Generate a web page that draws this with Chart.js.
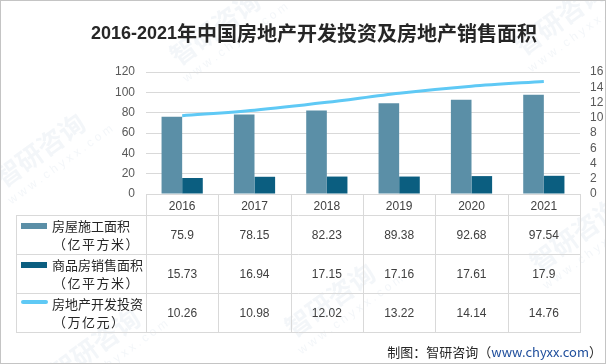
<!DOCTYPE html>
<html>
<head>
<meta charset="utf-8">
<script src="https://cdn.jsdelivr.net/npm/chart.js@4/dist/chart.umd.min.js"></script>
<style>
  html, body { margin: 0; padding: 0; background: #fff; }
  canvas { display: block; }
</style>
</head>
<body>
<canvas id="chart" width="606" height="364"></canvas>
<script>
const years = ["2016", "2017", "2018", "2019", "2020", "2021"]
const constructionArea = [75.9, 78.15, 82.23, 89.38, 92.68, 97.54]
const salesArea = [15.73, 16.94, 17.15, 17.16, 17.61, 17.9]
const investment = [10.26, 10.98, 12.02, 13.22, 14.14, 14.76]
const seriesNames = [
  ["房屋施工面积", "（亿平方米）"],
  ["商品房销售面积", "（亿平方米）"],
  ["房地产开发投资", "（万亿元）"]
]
const titleParts = ["2016-2021", "年中国房地产开发投资及房地产销售面积"]
const sourceParts = ["制图：智研咨询（", "www.chyxx.com", "）"]
const watermarks = [[215, 28], [560, 18], [40, 150], [330, 300], [575, 235], [95, 345]]

const CJK = "'Noto Sans CJK SC', 'Noto Sans', sans-serif"
const NUM = "'Liberation Sans', Arial, sans-serif"

// faint diagonal site logo behind everything
const watermarkPlugin = {
  id: "watermark",
  beforeDraw(chart) {
    const ctx = chart.ctx
    ctx.save()
    for (const [wx, wy] of watermarks) {
      ctx.save()
      ctx.translate(wx, wy)
      ctx.rotate(-Math.PI / 5)
      ctx.fillStyle = "rgba(150, 170, 200, 0.11)"
      ctx.font = "bold 26px " + CJK
      ctx.textAlign = "center"
      ctx.textBaseline = "middle"
      ctx.fillText("智研咨询", 0, 0)
      ctx.font = "12px " + NUM
      ctx.fillText("w w w . c h y x x . c o m", 8, 24)
      ctx.restore()
    }
    ctx.restore()
  }
}

// title, data table under the x axis, source line and frame
const tablePlugin = {
  id: "dataTable",
  afterDraw(chart) {
    const ctx = chart.ctx
    const xs = chart.scales.x
    const area = chart.chartArea
    const colW = (area.right - area.left) / years.length
    const rowTop = 215, rowH = 39, left = 16
    const bottom = rowTop + rowH * seriesNames.length
    const rows = [constructionArea, salesArea, investment]
    ctx.save()

    // grid of the table
    ctx.strokeStyle = "#d9d9d9"
    ctx.lineWidth = 1
    ctx.beginPath()
    for (let i = 0; i <= years.length; i++) {
      const px = Math.round(area.left + i * colW) + 0.5
      ctx.moveTo(px, area.bottom)
      ctx.lineTo(px, bottom)
    }
    ctx.moveTo(left + 0.5, rowTop)
    ctx.lineTo(left + 0.5, bottom)
    for (let r = 0; r <= rows.length; r++) {
      const py = rowTop + r * rowH + 0.5
      ctx.moveTo(left, py)
      ctx.lineTo(Math.round(area.right) + 1, py)
    }
    ctx.stroke()

    // values
    ctx.font = "12px " + NUM
    ctx.fillStyle = "#404040"
    ctx.textAlign = "center"
    ctx.textBaseline = "middle"
    rows.forEach((vals, r) => {
      vals.forEach((v, i) => {
        ctx.fillText(String(v), xs.getPixelForValue(i), rowTop + r * rowH + rowH / 2 + 1)
      })
    })

    // legend keys + names
    chart.data.datasets.forEach((ds, r) => {
      const y0 = rowTop + r * rowH
      if (ds.type === "line") {
        ctx.strokeStyle = ds.borderColor
        ctx.lineWidth = 4
        ctx.lineCap = "round"
        ctx.beginPath()
        ctx.moveTo(23, y0 + 9)
        ctx.lineTo(46, y0 + 9)
        ctx.stroke()
      } else {
        ctx.fillStyle = ds.backgroundColor
        ctx.fillRect(21, y0 + 8, 26, 6)
      }
      ctx.fillStyle = "#262626"
      ctx.textAlign = "left"
      ctx.font = "13px " + CJK
      ctx.fillText(seriesNames[r][0], 52, y0 + 11)
      ctx.letterSpacing = "1.5px"
      ctx.fillText(seriesNames[r][1], 53, y0 + 29)
      ctx.letterSpacing = "0px"
    })

    // title
    ctx.textBaseline = "middle"
    ctx.fillStyle = "#262626"
    ctx.font = "bold 18px " + NUM
    const w1 = ctx.measureText(titleParts[0]).width
    ctx.font = "bold 20px " + CJK
    const w2 = ctx.measureText(titleParts[1]).width
    let tx = 314 - (w1 + w2) / 2
    ctx.textAlign = "left"
    ctx.font = "bold 18px " + NUM
    ctx.fillText(titleParts[0], tx, 34)
    ctx.font = "bold 20px " + CJK
    ctx.fillText(titleParts[1], tx + w1, 33)

    // source, right aligned
    ctx.font = "13px " + CJK
    const widths = sourceParts.map(s => ctx.measureText(s).width)
    let sx = 602 - widths.reduce((a, b) => a + b, 0)
    sourceParts.forEach((s, i) => {
      ctx.fillStyle = i === 1 ? "#1f4e9c" : "#262626"
      ctx.fillText(s, sx, 352)
      sx += widths[i]
    })

    // frame
    ctx.strokeStyle = "#c4c4c4"
    ctx.lineWidth = 1
    ctx.strokeRect(0.5, 0.5, 605, 363)
    ctx.restore()
  }
}

new Chart(document.getElementById("chart"), {
  type: "bar",
  data: {
    labels: years,
    datasets: [
      {
        label: seriesNames[0].join(""),
        data: constructionArea,
        backgroundColor: "#5b8fa7",
        yAxisID: "y",
        order: 2
      },
      {
        label: seriesNames[1].join(""),
        data: salesArea,
        backgroundColor: "#0b5e80",
        yAxisID: "y",
        order: 2
      },
      {
        type: "line",
        label: seriesNames[2].join(""),
        data: investment,
        borderColor: "#5fc9f5",
        borderWidth: 3,
        pointRadius: 0,
        tension: 0.3,
        fill: false,
        yAxisID: "y1",
        order: 1
      }
    ]
  },
  options: {
    responsive: false,
    animation: false,
    devicePixelRatio: 1,
    layout: { padding: { top: 72, left: 0, right: 0, bottom: 0 } },
    datasets: { bar: { categoryPercentage: 0.57, barPercentage: 1.0 } },
    plugins: {
      legend: { display: false },
      title: { display: false },
      tooltip: { enabled: false }
    },
    scales: {
      x: {
        grid: { display: false, drawTicks: false },
        border: { display: false },
        ticks: { color: "#404040", font: { size: 12, family: NUM }, padding: 5, maxRotation: 0 },
        afterFit(scale) { scale.height = 170 }
      },
      y: {
        position: "left",
        min: 0,
        max: 120,
        grid: { color: "#d9d9d9", drawTicks: false },
        border: { display: false },
        ticks: { stepSize: 20, autoSkip: false, color: "#595959", font: { size: 12, family: NUM }, padding: 11 },
        afterFit(scale) { scale.width = 146 }
      },
      y1: {
        position: "right",
        min: 0,
        max: 16,
        grid: { display: false, drawTicks: false },
        border: { display: false },
        ticks: { stepSize: 2, autoSkip: false, color: "#595959", font: { size: 12, family: NUM }, padding: 10 },
        afterFit(scale) { scale.width = 26 }
      }
    }
  },
  plugins: [watermarkPlugin, tablePlugin]
})
</script>
</body>
</html>
